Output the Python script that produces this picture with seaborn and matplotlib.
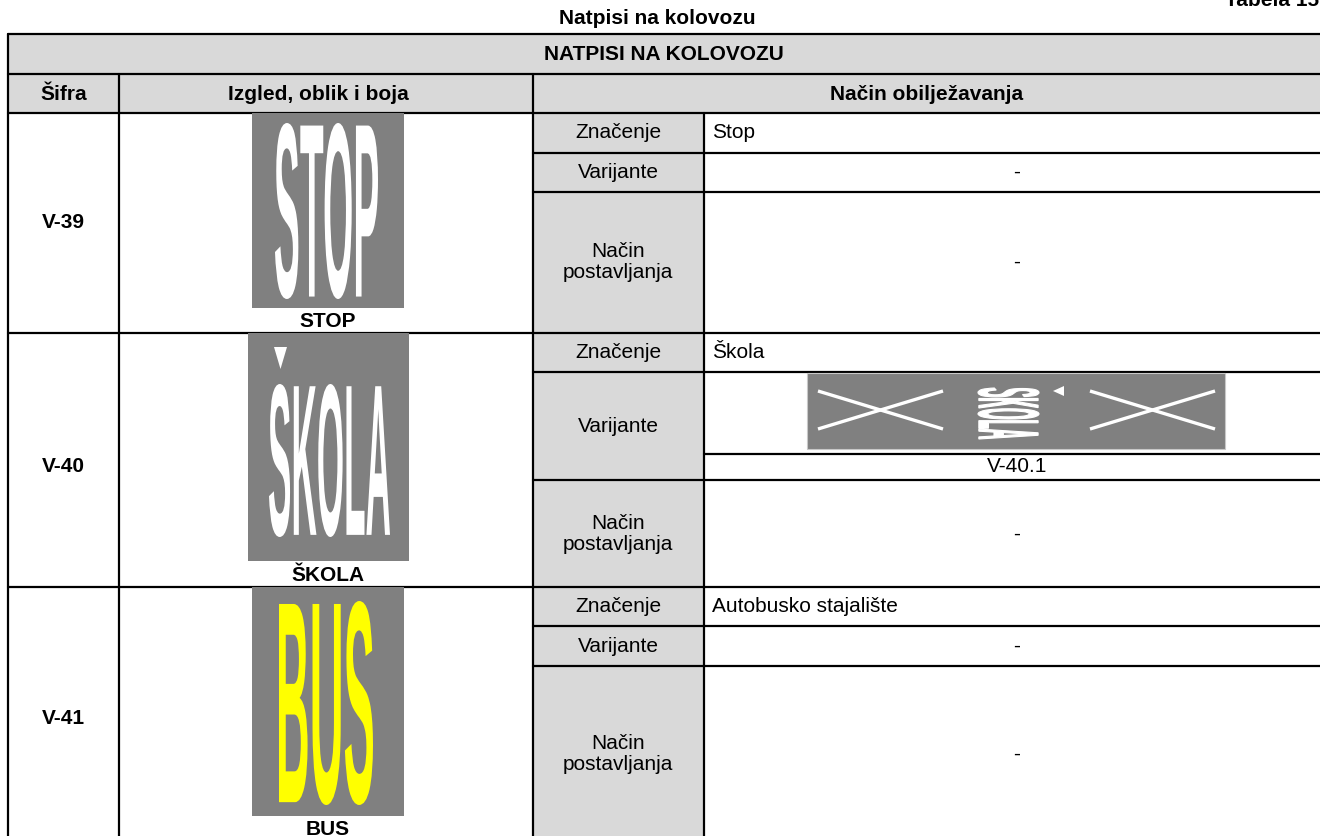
import matplotlib
matplotlib.use('Agg')
import matplotlib.pyplot as plt
import seaborn as sns
from matplotlib.textpath import TextPath
from matplotlib.font_manager import FontProperties
from matplotlib.patches import PathPatch, Rectangle, Polygon
from matplotlib.transforms import Affine2D

# table content
table_title = "NATPISI NA KOLOVOZU"
caption = "Natpisi na kolovozu"
table_no = "Tabela 15"
headers = ["Šifra", "Izgled, oblik i boja", "Način obilježavanja"]
codes = ["V-39", "V-40", "V-41"]
sign_words = ["STOP", "ŠKOLA", "BUS"]
sign_colors = ["white", "white", "#ffff00"]
sub_labels = ["Značenje", "Varijante", "Način\npostavljanja"]
meanings = ["Stop", "Škola", "Autobusko stajalište"]
variants = ["-", "V-40.1", "-"]
placements = ["-", "-", "-"]

sns.set_style("white")
plt.rcParams['font.family'] = ['Liberation Sans', 'DejaVu Sans']
plt.rcParams['text.color'] = 'black'

HEAD_GRAY = "#d9d9d9"
SIGN_GRAY = "#808080"
FS = 15
LW = 1.6

fig = plt.figure(figsize=(13.2, 8.36), dpi=100)
ax = fig.add_axes([0, 0, 1, 1])
ax.set_xlim(0, 1320)
ax.set_ylim(836, 0)
ax.axis('off')

# column edges and row layout (pixels)
x_left, x_code, x_img, x_lab, x_right = 8, 119, 533, 704, 1330
y_top, y_h1, y_h2 = 34, 74, 113
row_bounds = [113, 333, 587, 850]
# sub-row lines inside each row: (meaning bottom, variant bottom)
sub_lines = [(153, 192), (372, 480), (626, 666)]
code_y = [222, 466, 718]
place_y = [262, 534, 754]

# gray fills
ax.add_patch(Rectangle((x_left, y_top), x_right - x_left, y_h2 - y_top,
                       color=HEAD_GRAY, lw=0, zorder=0))
ax.add_patch(Rectangle((x_img, y_h2), x_lab - x_img, 836 - y_h2,
                       color=HEAD_GRAY, lw=0, zorder=0))

# grid lines
for y in [y_top, y_h1, y_h2, row_bounds[1], row_bounds[2]]:
    ax.plot([x_left, x_right], [y, y], color="black", lw=LW, zorder=2)
for a, b in sub_lines:
    ax.plot([x_img, x_right], [a, a], color="black", lw=LW, zorder=2)
    ax.plot([x_img, x_right], [b, b], color="black", lw=LW, zorder=2)
ax.plot([x_lab, x_right], [454, 454], color="black", lw=LW, zorder=2)
ax.plot([x_left, x_left], [y_top, 836], color="black", lw=LW, zorder=2)
for x in [x_code, x_img]:
    ax.plot([x, x], [y_h1, 836], color="black", lw=LW, zorder=2)
ax.plot([x_lab, x_lab], [y_h2, 836], color="black", lw=LW, zorder=2)

# captions and headers
ax.text(1319, 6, table_no, ha="right", va="baseline", fontsize=FS, weight="bold")
ax.text(657, 24, caption, ha="center", va="baseline", fontsize=FS, weight="bold")
ax.text(664, 54, table_title, ha="center", va="center", fontsize=FS, weight="bold")
ax.text(63.5, 94, headers[0], ha="center", va="center", fontsize=FS, weight="bold")
ax.text(318, 94, headers[1], ha="center", va="center", fontsize=FS, weight="bold")
ax.text(927, 94, headers[2], ha="center", va="center", fontsize=FS, weight="bold")

fp = FontProperties(family="Liberation Sans", weight="bold")


def fit_word(word, box, color, vertical=False, edge=0.0):
    x0, y0, x1, y1 = box
    tp = TextPath((0, 0), word, size=100, prop=fp)
    bb = tp.get_extents()
    norm = Affine2D().translate(-bb.x0, -bb.y0).scale(1 / bb.width, 1 / bb.height)
    if vertical:
        place = Affine2D([[0, x1 - x0, x0], [y1 - y0, 0, y0], [0, 0, 1]])
    else:
        place = Affine2D([[x1 - x0, 0, x0], [0, -(y1 - y0), y1], [0, 0, 1]])
    path = (norm + place).transform_path(tp)
    ax.add_patch(PathPatch(path, facecolor=color, edgecolor=color if edge else "none",
                           lw=edge, zorder=4))


# sign pictures
sign_rects = [(252, 113, 404, 308), (248, 333, 409, 561), (252, 587, 404, 816)]
word_boxes = [(275, 123, 378, 299), (269, 384, 390, 537), (279, 601, 373, 805)]
label_y = [327, 581, 835]
for i, word in enumerate(sign_words):
    rx0, ry0, rx1, ry1 = sign_rects[i]
    ax.add_patch(Rectangle((rx0, ry0), rx1 - rx0, ry1 - ry0, color=SIGN_GRAY,
                           lw=0, zorder=3))
    body = word.replace("Š", "S")
    fit_word(body, word_boxes[i], sign_colors[i])
    if word.startswith("Š"):
        ax.add_patch(Polygon([(274, 347), (287, 347), (280.5, 369)],
                             closed=True, color=sign_colors[i], lw=0, zorder=4))
    ax.text(328, label_y[i], word, ha="center", va="baseline", fontsize=FS,
            weight="bold", zorder=5)

# variant picture V-40.1
ax.add_patch(Rectangle((807, 373), 418, 76, facecolor=SIGN_GRAY,
                       edgecolor="#c8c8c8", lw=0.8, zorder=3))
for xa, xb in [(818, 943), (1090, 1215)]:
    ax.plot([xa, xb], [391, 429], color="white", lw=2.4, zorder=4,
            solid_capstyle="butt")
    ax.plot([xa, xb], [429, 391], color="white", lw=2.4, zorder=4,
            solid_capstyle="butt")
fit_word("SKOLA", (978, 388, 1039, 439), "white", vertical=True, edge=0.8)
ax.add_patch(Polygon([(1064, 386), (1064, 396), (1053, 391)], closed=True,
                     color="white", lw=0, zorder=4))

# body text
x_val_mid = 1017
for i in range(3):
    top = row_bounds[i]
    m_bot, v_bot = sub_lines[i]
    ax.text(63.5, code_y[i], codes[i], ha="center", va="center", fontsize=FS,
            weight="bold")
    ax.text(618, (top + m_bot) / 2, sub_labels[0], ha="center", va="center",
            fontsize=FS)
    ax.text(618, (m_bot + v_bot) / 2, sub_labels[1], ha="center", va="center",
            fontsize=FS)
    ax.text(618, place_y[i], sub_labels[2], ha="center", va="center",
            fontsize=FS, linespacing=1.15)
    ax.text(712, (top + m_bot) / 2, meanings[i], ha="left", va="center",
            fontsize=FS)
    if i == 1:
        ax.text(x_val_mid, 467, variants[i], ha="center", va="center", fontsize=FS)
    else:
        ax.text(x_val_mid, (m_bot + v_bot) / 2, variants[i], ha="center",
                va="center", fontsize=FS)
    ax.text(x_val_mid, place_y[i], placements[i], ha="center", va="center",
            fontsize=FS)

fig.savefig("out.png", dpi=100)
plt.close(fig)
